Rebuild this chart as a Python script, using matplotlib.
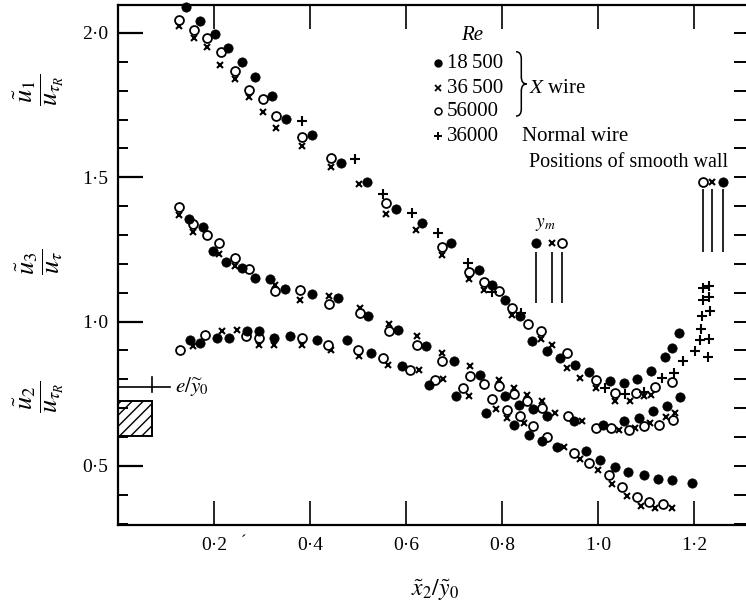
import matplotlib
matplotlib.use("Agg")
import matplotlib.pyplot as plt
from matplotlib.patches import Rectangle, PathPatch
from matplotlib.path import Path
from matplotlib.ticker import FuncFormatter, MultipleLocator, FixedLocator

plt.rcParams['font.family'] = ['Liberation Serif', 'DejaVu Serif']
plt.rcParams['mathtext.fontset'] = 'stix'

# ---------------- data ----------------
# u1 / u_tauR
u1_f_x = [0.142, 0.171, 0.202, 0.230, 0.259, 0.285, 0.320, 0.349, 0.405, 0.464, 0.519, 0.579, 0.634, 0.693,
          0.752, 0.778, 0.806, 0.838, 0.863, 0.893, 0.921, 0.952, 0.982, 1.025, 1.053, 1.082, 1.110, 1.140,
          1.153, 1.168]
u1_f_y = [2.09, 2.042, 1.998, 1.947, 1.898, 1.846, 1.780, 1.701, 1.646, 1.551, 1.482, 1.389, 1.343, 1.273,
          1.178, 1.128, 1.076, 1.018, 0.932, 0.897, 0.874, 0.851, 0.824, 0.793, 0.787, 0.802, 0.829, 0.877,
          0.907, 0.960]
u1_o_x = [0.128, 0.158, 0.186, 0.214, 0.244, 0.273, 0.303, 0.330, 0.383, 0.443, 0.558, 0.674, 0.731, 0.7625,
          0.794, 0.821, 0.853, 0.880, 0.936, 0.996, 1.036, 1.078, 1.119, 1.153]
u1_o_y = [2.046, 2.009, 1.983, 1.933, 1.869, 1.803, 1.771, 1.713, 1.641, 1.568, 1.410, 1.259, 1.171, 1.138,
          1.105, 1.048, 0.992, 0.966, 0.891, 0.796, 0.752, 0.752, 0.773, 0.791]
u1_x_x = [0.128, 0.158, 0.186, 0.2125, 0.244, 0.273, 0.303, 0.330, 0.383, 0.443, 0.501, 0.558, 0.620, 0.674,
          0.731, 0.763, 0.821, 0.880, 0.903, 0.935, 0.962, 0.996, 1.036, 1.067, 1.096, 1.111]
u1_x_y = [2.023, 1.983, 1.950, 1.889, 1.840, 1.777, 1.725, 1.672, 1.609, 1.534, 1.478, 1.372, 1.316, 1.229,
          1.146, 1.111, 1.024, 0.940, 0.920, 0.839, 0.805, 0.770, 0.723, 0.723, 0.741, 0.747]
u1_p_x = [0.383, 0.494, 0.551, 0.613, 0.666, 0.730, 0.778, 0.840, 1.015, 1.055, 1.096, 1.133, 1.157, 1.177,
          1.202, 1.228, 1.2125, 1.230, 1.214, 1.216, 1.233, 1.218, 1.230, 1.218, 1.230]
u1_p_y = [1.696, 1.565, 1.441, 1.377, 1.308, 1.204, 1.102, 1.030, 0.770, 0.750, 0.755, 0.804, 0.822, 0.864,
          0.897, 0.877, 0.9375, 0.940, 0.975, 1.018, 1.036, 1.076, 1.086, 1.117, 1.123]

# u3 / u_tau
u3_f_x = [0.147, 0.178, 0.197, 0.225, 0.258, 0.285, 0.317, 0.348, 0.4035, 0.459, 0.521, 0.584, 0.641, 0.699,
          0.753, 0.806, 0.836, 0.864, 0.893, 0.949, 1.011, 1.054, 1.086, 1.115, 1.143, 1.171]
u3_f_y = [1.357, 1.329, 1.245, 1.207, 1.187, 1.152, 1.146, 1.114, 1.097, 1.082, 1.018, 0.972, 0.917, 0.862,
          0.816, 0.741, 0.712, 0.697, 0.672, 0.654, 0.642, 0.656, 0.666, 0.689, 0.706, 0.739]
u3_o_x = [0.128, 0.157, 0.186, 0.210, 0.244, 0.273, 0.327, 0.379, 0.440, 0.504, 0.565, 0.622, 0.674, 0.733,
          0.7625, 0.794, 0.824, 0.851, 0.883, 0.938, 0.996, 1.026, 1.065, 1.096, 1.126, 1.155]
u3_o_y = [1.398, 1.337, 1.299, 1.273, 1.219, 1.183, 1.105, 1.111, 1.0625, 1.030, 0.966, 0.920, 0.862, 0.810,
          0.785, 0.775, 0.750, 0.723, 0.700, 0.674, 0.631, 0.631, 0.623, 0.637, 0.642, 0.660]
u3_x_x = [0.128, 0.157, 0.210, 0.244, 0.327, 0.379, 0.440, 0.504, 0.565, 0.622, 0.674, 0.733, 0.794, 0.824,
          0.851, 0.883, 0.910, 0.966, 1.044, 1.077, 1.108, 1.142, 1.160]
u3_x_y = [1.368, 1.311, 1.233, 1.191, 1.128, 1.076, 1.088, 1.048, 0.993, 0.950, 0.891, 0.845, 0.799, 0.770,
          0.747, 0.723, 0.683, 0.654, 0.625, 0.631, 0.648, 0.669, 0.683]

# u2 / u_tauR
u2_f_x = [0.151, 0.171, 0.206, 0.232, 0.268, 0.294, 0.325, 0.358, 0.414, 0.478, 0.526, 0.591, 0.647, 0.705,
          0.767, 0.824, 0.855, 0.883, 0.914, 0.974, 1.004, 1.035, 1.062, 1.095, 1.124, 1.154, 1.195]
u2_f_y = [0.9375, 0.926, 0.943, 0.943, 0.966, 0.966, 0.943, 0.950, 0.9375, 0.935, 0.891, 0.845, 0.781, 0.741,
          0.683, 0.642, 0.608, 0.587, 0.567, 0.550, 0.520, 0.497, 0.477, 0.468, 0.455, 0.451, 0.440]
u2_o_x = [0.129, 0.181, 0.267, 0.294, 0.383, 0.438, 0.499, 0.551, 0.608, 0.660, 0.719, 0.778, 0.810, 0.8375,
          0.865, 0.893, 0.950, 0.980, 1.022, 1.049, 1.080, 1.106, 1.135]
u2_o_y = [0.903, 0.955, 0.949, 0.943, 0.943, 0.920, 0.903, 0.874, 0.833, 0.799, 0.770, 0.731, 0.695, 0.671,
          0.637, 0.601, 0.545, 0.509, 0.467, 0.427, 0.393, 0.373, 0.368]
u2_x_x = [0.156, 0.216, 0.247, 0.294, 0.325, 0.383, 0.443, 0.501, 0.563, 0.626, 0.676, 0.732, 0.7875, 0.810,
          0.846, 0.929, 0.963, 0.999, 1.029, 1.060, 1.090, 1.119, 1.153]
u2_x_y = [0.914, 0.966, 0.972, 0.920, 0.920, 0.920, 0.901, 0.882, 0.851, 0.833, 0.801, 0.741, 0.697, 0.666,
          0.648, 0.566, 0.522, 0.485, 0.437, 0.396, 0.362, 0.353, 0.355]

# wall / y_m positions
ym_x = [0.870, 0.904, 0.925]
wall_x = [1.219, 1.237, 1.260]
legend_labels = ['18\u2009500', '36\u2009500', '56000', '36000']
xtick_vals = [0.2, 0.4, 0.6, 0.8, 1.0, 1.2]
ytick_vals = [0.5, 1.0, 1.5, 2.0]

# ---------------- figure ----------------
fig = plt.figure(figsize=(7.46, 6.04), dpi=100)
ax = fig.add_axes([118 / 746, 79 / 604, 628 / 746, 520 / 604])
ax.set_xlim(0, 1.308)
ax.set_ylim(0.295, 2.097)

f_style = dict(ls='none', marker='o', ms=6.7, mfc='black', mec='black', mew=0.5, clip_on=False)
o_style = dict(ls='none', marker='o', ms=6.4, mfc='white', mec='black', mew=1.3, clip_on=False)
x_style = dict(ls='none', marker='x', ms=4.8, mec='black', mew=1.5, clip_on=False)
p_style = dict(ls='none', marker='+', ms=7.5, mec='black', mew=1.5, clip_on=False)

for (fx, fy, ox, oy, xx, xy) in [(u1_f_x, u1_f_y, u1_o_x, u1_o_y, u1_x_x, u1_x_y),
                                 (u3_f_x, u3_f_y, u3_o_x, u3_o_y, u3_x_x, u3_x_y),
                                 (u2_f_x, u2_f_y, u2_o_x, u2_o_y, u2_x_x, u2_x_y)]:
    ax.plot(xx, xy, **x_style)
    ax.plot(ox, oy, **o_style)
    ax.plot(fx, fy, **f_style)
ax.plot(u1_p_x, u1_p_y, **p_style)

# spines and ticks
ax.spines['right'].set_visible(False)
for s in ['left', 'bottom', 'top']:
    ax.spines[s].set_linewidth(1.6)
ax.xaxis.set_major_locator(FixedLocator(xtick_vals))
ax.yaxis.set_major_locator(FixedLocator(ytick_vals))
ax.yaxis.set_minor_locator(MultipleLocator(0.1))
fmt = FuncFormatter(lambda v, p: f"{v:.1f}".replace('.', '\u00b7'))
ax.xaxis.set_major_formatter(fmt)
ax.yaxis.set_major_formatter(fmt)
ax.tick_params(axis='x', which='major', direction='in', top=True, bottom=True, length=17, width=1.2,
               labelsize=14, pad=9)
ax.tick_params(axis='y', which='major', direction='in', left=True, right=False, length=18, width=1.6,
               labelsize=14, pad=7)
ax.tick_params(axis='y', which='minor', direction='in', left=True, right=False, length=7, width=1.4)

ax2 = ax.twinx()
ax2.set_ylim(ax.get_ylim())
ax2.spines[:].set_visible(False)
ax2.yaxis.set_major_locator(MultipleLocator(0.1))
ax2.tick_params(axis='y', which='major', direction='in', right=True, length=9, width=1.4, labelright=False)

# y_m markers and lines
ax.plot([ym_x[0]], [1.271], **f_style)
ax.plot([ym_x[1]], [1.271], **x_style)
ax.plot([ym_x[2]], [1.271], **o_style)
ax.vlines(ym_x, 1.066, 1.24, colors='black', lw=1.2)
ax.text(0.891, 1.335, r'$y_m$', fontsize=14, ha='center', va='center')

# smooth wall
ax.plot([wall_x[0]], [1.483], **o_style)
ax.plot([wall_x[1]], [1.483], **x_style)
ax.plot([wall_x[2]], [1.483], **f_style)
ax.vlines(wall_x, 1.24, 1.458, colors='black', lw=1.2)
ax.text(1.271, 1.552, 'Positions of smooth wall', fontsize=14.5, ha='right', va='center')

# legend block
lx = 0.667
ly = [1.896, 1.809, 1.729, 1.642]
ax.text(0.7375, 1.990, 'Re', fontsize=15, style='italic', ha='center', va='center')
ax.plot([lx], [ly[0]], ls='none', marker='o', ms=5, mfc='black', mec='black')
ax.plot([lx], [ly[1]], ls='none', marker='x', ms=4, mec='black', mew=1.3)
ax.plot([lx], [ly[2]], ls='none', marker='o', ms=5, mfc='white', mec='black', mew=1.1)
ax.plot([lx], [ly[3]], ls='none', marker='+', ms=6, mec='black', mew=1.4)
for yy, lab in zip(ly, legend_labels):
    ax.text(0.685, yy, lab, fontsize=15, ha='left', va='center')
ax.text(0.855, 1.809, r'$X$ wire', fontsize=15, ha='left', va='center')
ax.text(0.842, 1.642, 'Normal wire', fontsize=15, ha='left', va='center')

# brace
x0, w = 0.829, 0.022
xm, xt = x0 + w / 2, x0 + w
yt, yb = 1.935, 1.712
ymid = (yt + yb) / 2
d = 0.025
verts = [(x0, yt), (xm, yt), (xm, yt - d), (xm, ymid + d), (xm, ymid), (xt, ymid),
         (xm, ymid), (xm, ymid - d), (xm, yb + d), (xm, yb), (x0, yb)]
codes = [Path.MOVETO, Path.CURVE3, Path.CURVE3, Path.LINETO, Path.CURVE3, Path.CURVE3,
         Path.CURVE3, Path.CURVE3, Path.LINETO, Path.CURVE3, Path.CURVE3]
ax.add_patch(PathPatch(Path(verts, codes), fill=False, lw=1.1, ec='black'))

# roughness element and e/y0
ax.add_patch(Rectangle((0, 0.604), 0.071, 0.122, fill=False, hatch='///', lw=1.4, ec='black', clip_on=False))
ax.plot([0, 0.108], [0.774, 0.774], color='black', lw=1.2)
ax.plot([0.071, 0.071], [0.757, 0.809], color='black', lw=1.2)
ax.text(0.118, 0.774, r'$e/\widetilde{y}_0$', fontsize=15, ha='left', va='center')

# axis labels
fig.text(0.052, 0.851, r'$\dfrac{\tilde{u}_1}{u_{\tau_R}}$', fontsize=19, rotation=90, ha='center', va='center')
fig.text(0.052, 0.566, r'$\dfrac{\tilde{u}_3}{u_{\tau}}$', fontsize=19, rotation=90, ha='center', va='center')
fig.text(0.052, 0.343, r'$\dfrac{\tilde{u}_2}{u_{\tau_R}}$', fontsize=19, rotation=90, ha='center', va='center')
fig.text(0.583, 0.022, r'$\tilde{x}_2/\tilde{y}_0$', fontsize=17, ha='center', va='center')
fig.text(243 / 746, 1 - 542 / 604, '\u00b4', fontsize=12, ha='center', va='center')

fig.savefig('out.png', dpi=100)
